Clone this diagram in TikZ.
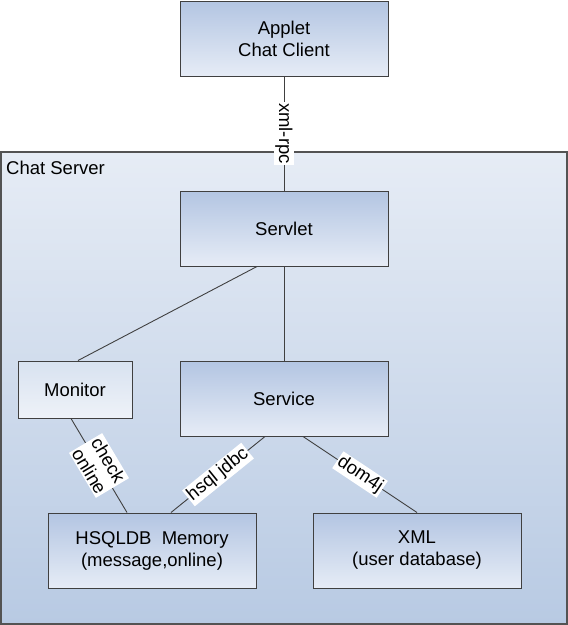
\documentclass[tikz,border=0pt]{standalone}
\usepackage{fontspec}
\setmainfont{Liberation Sans}
\usepackage{tikz}
\usetikzlibrary{positioning, shapes}
\definecolor{boxtop}{HTML}{B3C5E2}
\definecolor{boxbot}{HTML}{E6ECF6}
\definecolor{montop}{HTML}{D8E2F0}
\definecolor{monbot}{HTML}{EEF2F8}
\definecolor{srvtop}{HTML}{E6ECF5}
\definecolor{srvbot}{HTML}{B8CAE3}
\definecolor{edge}{HTML}{404040}
\newcommand{\txt}{\fontsize{18.5}{22}\selectfont}
\tikzstyle{box} = [rectangle, draw=edge, line width=1pt, top color=boxtop, bottom color=boxbot, minimum height=75pt, minimum width=208pt, inner sep=0pt]
\tikzstyle{box2} = [box, top color=montop, bottom color=monbot, minimum height=57pt, minimum width=114pt]
\tikzstyle{frame} = [draw=edge!90, line width=1.3pt, top color=srvtop, bottom color=srvbot]
\tikzstyle{link} = [draw=edge, line width=0.9pt]
\tikzstyle{lbl} = [fill=white, inner sep=1.5pt]

\begin{document}
\begin{tikzpicture}[x=1pt, y=1pt, align=center, node distance=0pt, every node/.style={font=\txt}]

\useasboundingbox (0,0) rectangle (568,-625);
\draw[frame] (1,-152) rectangle (567,-624);
\node(CS)[anchor=base west, inner sep=0pt] at (6,-174) {Chat Server};

\node(APP)[box] at (284,-38.5) {Applet\\Chat Client};
\node(SRVL)[box, below = 114pt of APP] {Servlet};
\node(SRVC)[box, below = 94pt of SRVL] {Service};
\node(MON)[box2, left = 47pt of SRVC.north west, anchor=north east] {Monitor};

\node(HSQL)[box, below = 76pt of SRVC, xshift=-132pt] {HSQLDB\ \ Memory\\(message,online)};
\node(XML)[box, right = 56pt of HSQL] {XML\\(user database)};

\draw [link] (APP) -- node[lbl, rotate=-90] {xml-rpc} (SRVL);
\draw [link] ([xshift=-27pt]SRVL.south) -- ([xshift=3pt]MON.north);
\draw [link] (SRVL.south) -- (SRVC.north);
\draw [link] ([xshift=-4pt]MON.south) -- node[lbl, sloped] {check\\online} ([xshift=-25pt]HSQL.north);
\draw [link] ([xshift=-19pt]SRVC.south) -- node[lbl, sloped] {hsql jdbc} ([xshift=19pt]HSQL.north);
\draw [link] ([xshift=19pt]SRVC.south) -- node[lbl, sloped] {dom4j} (XML.north);

\end{tikzpicture}
\end{document}
